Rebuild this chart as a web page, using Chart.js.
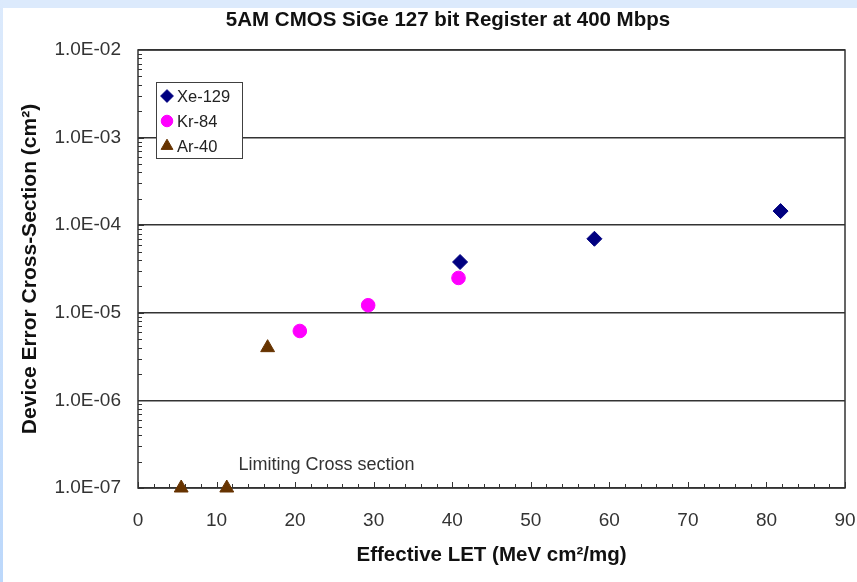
<!DOCTYPE html>
<html>
<head>
    <script src="https://cdn.jsdelivr.net/npm/chart.js@4"></script>
    <style>
        html, body { margin: 0; padding: 0; background: #ffffff; }
        #chart { display: block; }
    </style>
</head>
<body>
  <canvas id="chart" width="857" height="582"></canvas>
  <script>
    // data
    var xeLet = [41.0, 58.1, 81.8];
    var xeCross = [3.8e-5, 7.0e-5, 1.45e-4];
    var krLet = [20.6, 29.3, 40.8];
    var krCross = [6.2e-6, 1.22e-5, 2.5e-5];
    var arLet = [5.5, 11.3, 16.5];
    var arCross = [1.0e-7, 1.0e-7, 4.0e-6];
    var yTicks = [1e-7, 1e-6, 1e-5, 1e-4, 1e-3, 1e-2];
    var chartTitle = '5AM CMOS SiGe 127 bit Register at 400 Mbps';
    var noteText = 'Limiting Cross section';
    var noteAt = [12.8, 1.85e-7];

    var FONT = "'Liberation Sans', Arial, sans-serif";

    function pts(xs, ys) {
        return xs.map(function (x, i) { return {x: x, y: ys[i]}; });
    }

    function sci(v) {
        var e = Math.round(Math.log10(v));
        var m = v / Math.pow(10, e);
        var s = Math.abs(e) < 10 ? '0' + Math.abs(e) : '' + Math.abs(e);
        return m.toFixed(1) + 'E' + (e < 0 ? '-' : '+') + s;
    }

    var backdrop = {
        id: 'backdrop',
        beforeDraw: function (chart) {
            var ctx = chart.ctx;
            ctx.save();
            ctx.fillStyle = '#dceafc';
            ctx.fillRect(0, 0, chart.width, 8);
            var g = ctx.createLinearGradient(0, 0, 0, chart.height);
            g.addColorStop(0, '#dceafc');
            g.addColorStop(1, '#bcd8fb');
            ctx.fillStyle = g;
            ctx.fillRect(0, 0, 3, chart.height);
            // title, centred a bit left of the plot centre like the original
            ctx.fillStyle = '#111111';
            ctx.font = 'bold 20.5px ' + FONT;
            ctx.textAlign = 'center';
            ctx.textBaseline = 'middle';
            ctx.fillText(chartTitle, 448, 20);
            ctx.restore();
        }
    };

    // frame, inward tick marks, note text and legend box
    var extras = {
        id: 'extras',
        beforeDatasetsDraw: function (chart) {
            var ctx = chart.ctx, a = chart.chartArea;
            var xs = chart.scales.x, ys = chart.scales.y;
            ctx.save();
            ctx.strokeStyle = '#333333';
            ctx.lineWidth = 1;
            ctx.beginPath();
            for (var v = 0; v <= 90; v += 2) {
                var px = Math.round(xs.getPixelForValue(v)) + 0.5;
                var len = v % 10 === 0 ? 6 : 4;
                ctx.moveTo(px, a.bottom);
                ctx.lineTo(px, a.bottom - len);
            }
            for (var e = -7; e < -2; e++) {
                for (var k = 1; k <= 9; k++) {
                    var py = Math.round(ys.getPixelForValue(k * Math.pow(10, e))) + 0.5;
                    var l2 = k === 1 ? 6 : 4;
                    ctx.moveTo(a.left, py);
                    ctx.lineTo(a.left + l2, py);
                }
            }
            ctx.stroke();
            ctx.lineWidth = 1.5;
            ctx.strokeRect(a.left, a.top, a.right - a.left, a.bottom - a.top);

            ctx.fillStyle = '#333333';
            ctx.font = '18px ' + FONT;
            ctx.textAlign = 'left';
            ctx.textBaseline = 'middle';
            ctx.fillText(noteText, xs.getPixelForValue(noteAt[0]), ys.getPixelForValue(noteAt[1]));

            // legend
            var bx = a.left + 18, by = a.top + 32, bw = 86, bh = 76;
            ctx.fillStyle = '#ffffff';
            ctx.fillRect(bx, by, bw, bh);
            ctx.lineWidth = 1;
            ctx.strokeStyle = '#404040';
            ctx.strokeRect(bx + 0.5, by + 0.5, bw, bh);
            ctx.font = '16.5px ' + FONT;
            chart.data.datasets.forEach(function (ds, i) {
                var cy = by + 14 + i * 25;
                ctx.fillStyle = ds.backgroundColor;
                ctx.strokeStyle = ds.backgroundColor;
                Chart.helpers.drawPoint(ctx, {pointStyle: ds.pointStyle, radius: ds.pointRadius * 0.85, rotation: 0, borderWidth: 1}, bx + 11, cy);
                ctx.fillStyle = '#222222';
                ctx.fillText(ds.label, bx + 21, cy + 1);
            });
            ctx.restore();
        }
    };

    new Chart(document.getElementById('chart'), {
        type: 'scatter',
        data: {
            datasets: [{
                label: 'Xe-129',
                data: pts(xeLet, xeCross),
                pointStyle: 'rectRot',
                pointRadius: 7.5,
                backgroundColor: '#000080',
                borderColor: '#000080',
                clip: false
            }, {
                label: 'Kr-84',
                data: pts(krLet, krCross),
                pointStyle: 'circle',
                pointRadius: 6.8,
                backgroundColor: '#ff00ff',
                borderColor: '#ff00ff',
                clip: false
            }, {
                label: 'Ar-40',
                data: pts(arLet, arCross),
                pointStyle: 'triangle',
                pointRadius: 8,
                backgroundColor: '#663300',
                borderColor: '#663300',
                clip: false
            }]
        },
        options: {
            responsive: false,
            animation: false,
            layout: { padding: { left: 0, right: 12, top: 50, bottom: 0 } },
            plugins: {
                legend: { display: false },
                tooltip: { enabled: false },
                title: { display: false }
            },
            scales: {
                x: {
                    type: 'linear',
                    min: 0,
                    max: 90,
                    ticks: { stepSize: 10, color: '#333333', padding: 13, font: { family: FONT, size: 19 } },
                    grid: { display: false },
                    border: { display: false },
                    title: {
                        display: true,
                        text: 'Effective LET (MeV cm\u00b2/mg)',
                        color: '#111111',
                        font: { family: FONT, size: 20.5, weight: 'bold' },
                        padding: { top: 0, bottom: 14 }
                    },
                    afterFit: function (s) {
                        s.height = 94;
                        s.paddingLeft = 0;
                        s.paddingRight = 0;
                    }
                },
                y: {
                    type: 'logarithmic',
                    min: 1e-7,
                    max: 1e-2,
                    afterBuildTicks: function (s) {
                        s.ticks = yTicks.map(function (v) { return {value: v}; });
                    },
                    ticks: {
                        color: '#333333',
                        padding: 17,
                        font: { family: FONT, size: 19 },
                        callback: function (v) { return sci(v); }
                    },
                    grid: { color: '#333333', lineWidth: 1.5, drawTicks: false },
                    border: { display: false },
                    title: {
                        display: true,
                        text: 'Device Error Cross-Section (cm\u00b2)',
                        color: '#111111',
                        font: { family: FONT, size: 21, weight: 'bold' },
                        padding: { top: 18, bottom: 0 }
                    },
                    afterFit: function (s) {
                        s.width = 138;
                        s.paddingTop = 0;
                        s.paddingBottom = 0;
                    }
                }
            }
        },
        plugins: [backdrop, extras]
    });
  </script>
</body>
</html>
